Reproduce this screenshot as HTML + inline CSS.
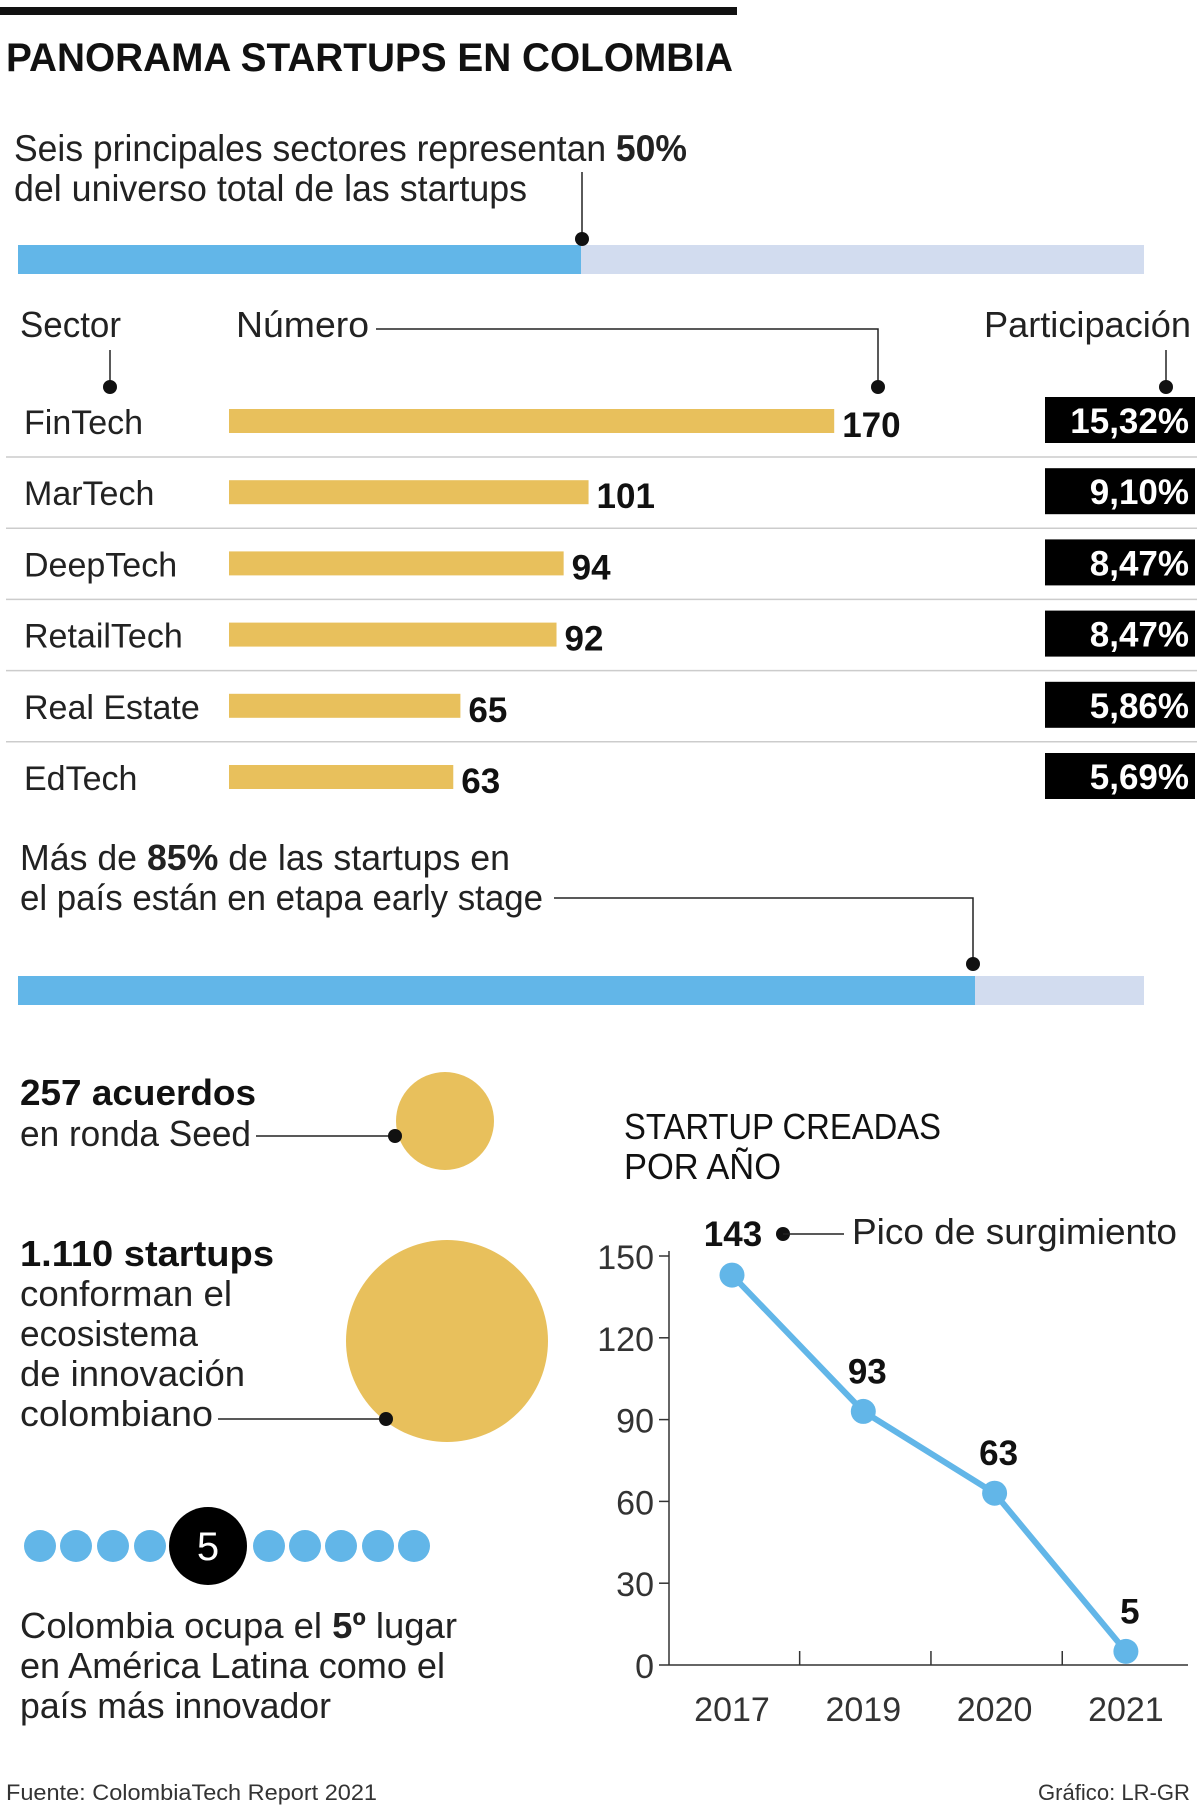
<!DOCTYPE html>
<html><head><meta charset="utf-8"><style>
body{margin:0;background:#fff;}
svg{display:block;font-family:"Liberation Sans Narrow","Liberation Sans",sans-serif;}
</style></head><body>
<svg id="s" width="1200" height="1807" viewBox="0 0 1200 1807">
<rect x="0" y="7" width="737" height="8" fill="#111"/>
<text x="6" y="71" font-size="40" font-weight="bold" fill="#111" textLength="727" lengthAdjust="spacingAndGlyphs">PANORAMA STARTUPS EN COLOMBIA</text>
<text x="14" y="161" font-size="37" fill="#222" textLength="673" lengthAdjust="spacingAndGlyphs">Seis principales sectores representan <tspan font-weight="bold">50%</tspan></text>
<text x="14" y="201" font-size="37" fill="#222" textLength="513" lengthAdjust="spacingAndGlyphs">del universo total de las startups</text>
<rect x="18" y="245" width="1126" height="29" fill="#d2dcef"/>
<rect x="18" y="245" width="563" height="29" fill="#62b6e8"/>
<line x1="582" y1="172" x2="582" y2="238" stroke="#222" stroke-width="1.5"/>
<circle cx="582" cy="239" r="7" fill="#111"/>
<text x="20" y="337" font-size="36" fill="#222" textLength="101" lengthAdjust="spacingAndGlyphs">Sector</text>
<text x="236" y="337" font-size="36" fill="#222" textLength="133" lengthAdjust="spacingAndGlyphs">Número</text>
<text x="984" y="337" font-size="36" fill="#222" textLength="207" lengthAdjust="spacingAndGlyphs">Participación</text>
<line x1="110" y1="350" x2="110" y2="387" stroke="#222" stroke-width="1.5"/>
<circle cx="110" cy="387" r="7" fill="#111"/>
<polyline points="376,329 878,329 878,387" fill="none" stroke="#222" stroke-width="1.5"/>
<circle cx="878" cy="387" r="7" fill="#111"/>
<line x1="1166" y1="350" x2="1166" y2="387" stroke="#222" stroke-width="1.5"/>
<circle cx="1166" cy="387" r="7" fill="#111"/>
<g id="rows"></g>
<text x="20" y="870" font-size="36" fill="#222" textLength="490" lengthAdjust="spacingAndGlyphs">Más de <tspan font-weight="bold">85%</tspan> de las startups en</text>
<text x="20" y="910" font-size="36" fill="#222" textLength="523" lengthAdjust="spacingAndGlyphs">el país están en etapa early stage</text>
<polyline points="554,898 973,898 973,963" fill="none" stroke="#222" stroke-width="1.5"/>
<rect x="18" y="976" width="1126" height="29" fill="#d2dcef"/>
<rect x="18" y="976" width="957" height="29" fill="#62b6e8"/>
<circle cx="973" cy="964" r="7" fill="#111"/>
<text x="20" y="1105" font-size="36" font-weight="bold" fill="#111" textLength="236" lengthAdjust="spacingAndGlyphs">257 acuerdos</text>
<text x="20" y="1146" font-size="36" fill="#222" textLength="231" lengthAdjust="spacingAndGlyphs">en ronda Seed</text>
<circle cx="445" cy="1121" r="49" fill="#e8c05c"/>
<line x1="256" y1="1136" x2="395" y2="1136" stroke="#222" stroke-width="1.5"/>
<circle cx="395" cy="1136" r="7" fill="#111"/>
<text x="20" y="1266" font-size="36" font-weight="bold" fill="#111" textLength="254" lengthAdjust="spacingAndGlyphs">1.110 startups</text>
<text font-size="36" fill="#222"><tspan x="20" y="1306" textLength="212" lengthAdjust="spacingAndGlyphs">conforman el</tspan><tspan x="20" y="1346" textLength="178" lengthAdjust="spacingAndGlyphs">ecosistema</tspan><tspan x="20" y="1386" textLength="225" lengthAdjust="spacingAndGlyphs">de innovación</tspan><tspan x="20" y="1426" textLength="193" lengthAdjust="spacingAndGlyphs">colombiano</tspan></text>
<circle cx="447" cy="1341" r="101" fill="#e8c05c"/>
<line x1="218" y1="1419" x2="386" y2="1419" stroke="#222" stroke-width="1.5"/>
<circle cx="386" cy="1419" r="7" fill="#111"/>
<g id="dots"></g>
<text font-size="36" fill="#222"><tspan x="20" y="1638" textLength="437" lengthAdjust="spacingAndGlyphs">Colombia ocupa el <tspan font-weight="bold">5º</tspan> lugar</tspan><tspan x="20" y="1678" textLength="425" lengthAdjust="spacingAndGlyphs">en América Latina como el</tspan><tspan x="20" y="1718" textLength="311" lengthAdjust="spacingAndGlyphs">país más innovador</tspan></text>
<text x="6" y="1800" font-size="22" fill="#333" textLength="371" lengthAdjust="spacingAndGlyphs">Fuente: ColombiaTech Report 2021</text>
<text x="1038" y="1800" font-size="22" fill="#333" textLength="152" lengthAdjust="spacingAndGlyphs">Gráfico: LR-GR</text>
<text font-size="36" fill="#111"><tspan x="624" y="1139" textLength="317" lengthAdjust="spacingAndGlyphs">STARTUP CREADAS</tspan><tspan x="624" y="1179" textLength="157" lengthAdjust="spacingAndGlyphs">POR AÑO</tspan></text>
<g id="chart"></g>
</svg>
<script>
const sectors=["FinTech","MarTech","DeepTech","RetailTech","Real Estate","EdTech"];
const counts=[170,101,94,92,65,63];
const shares=["15,32%","9,10%","8,47%","8,47%","5,86%","5,69%"];
const years=["2017","2019","2020","2021"];
const created=[143,93,63,5];
const yTicks=[0,30,60,90,120,150];
const NS="http://www.w3.org/2000/svg";
function mk(t,a,p,txt){const e=document.createElementNS(NS,t);for(const k in a)e.setAttribute(k,a[k]);if(txt!==undefined)e.textContent=txt;p.appendChild(e);return e;}
const rows=document.getElementById('rows');
const bx=v=>v*3.56;
sectors.forEach((s,i)=>{
 const cy=421+i*71.2;
 const t=mk('text',{x:24,y:cy+13,'font-size':34,fill:'#222'},rows,s);
 
 
 const b=mk('rect',{x:229,y:cy-12,width:bx(counts[i]),height:24,fill:'#e8c05c'},rows);
 
 
 const v=mk('text',{x:229+bx(counts[i])+8,y:cy+16,'font-size':35,'font-weight':'bold',fill:'#111'},rows,counts[i]);
 
 
 const r=mk('rect',{x:1045,y:cy-24,width:150,height:46,fill:'#000'},rows);
 
 
 const st=mk('text',{x:1189,y:cy+12,'font-size':35,'font-weight':'bold',fill:'#fff','text-anchor':'end'},rows,shares[i]);
 
 
 if(i<sectors.length-1){const l=mk('line',{x1:6,x2:1197,y1:cy+36,y2:cy+36,stroke:'#ccc','stroke-width':1.5},rows);
 
 }
});
const dots=document.getElementById('dots');
[40,76,113,150,269,305,341,378,414].forEach(x=>{const c=mk('circle',{cx:x,cy:1546,r:16,fill:'#62b6e8'},dots);
 
 });
const bc=mk('circle',{cx:208,cy:1546,r:39,fill:'#000'},dots);


mk('text',{x:208,y:1560,'font-size':40,fill:'#fff','text-anchor':'middle'},dots,'5');
const ch=document.getElementById('chart');
const y0=1665,y1=1256,x0=669,xEnd=1188;
const ys=v=>y0-(v/150)*(y0-y1);
const xs=i=>732+i*131.3;
mk('line',{x1:x0,y1:y1-5,x2:x0,y2:y0,stroke:'#333','stroke-width':1.5},ch);
const xa=mk('line',{x1:x0,y1:y0,x2:xEnd,y2:y0,stroke:'#333','stroke-width':1.5},ch);


yTicks.forEach(v=>{mk('line',{x1:x0-10,x2:x0,y1:ys(v),y2:ys(v),stroke:'#333','stroke-width':1.5},ch);
 const t=mk('text',{x:654,y:ys(v)+13,'font-size':34,fill:'#333','text-anchor':'end'},ch,v);
 
 });
for(let i=0;i<years.length-1;i++){const x=(xs(i)+xs(i+1))/2+2;mk('line',{x1:x,x2:x,y1:y0-14,y2:y0,stroke:'#333','stroke-width':1.5},ch);}
years.forEach((y,i)=>{const t=mk('text',{x:xs(i),y:1721,'font-size':34,fill:'#333','text-anchor':'middle'},ch,y);
 
 });
const ln=mk('polyline',{points:created.map((v,i)=>xs(i)+','+ys(v)).join(' '),fill:'none',stroke:'#62b6e8','stroke-width':6},ch);


created.forEach((v,i)=>{const c=mk('circle',{cx:xs(i),cy:ys(v),r:12.5,fill:'#62b6e8'},ch);
 
 
 const t=mk('text',{x:xs(i)+(i==0?1:4),y:i==0?1246:ys(v)-28,'font-size':35,'font-weight':'bold',fill:'#111','text-anchor':'middle'},ch,v);
 
 });
mk('circle',{cx:783,cy:1234,r:7,fill:'#111'},ch);
mk('line',{x1:783,x2:844,y1:1234,y2:1234,stroke:'#222','stroke-width':1.5},ch);
const pk=mk('text',{x:852,y:1244,'font-size':36,fill:'#222',textLength:325,lengthAdjust:'spacingAndGlyphs'},ch,'Pico de surgimiento');


</script>
</body></html>
